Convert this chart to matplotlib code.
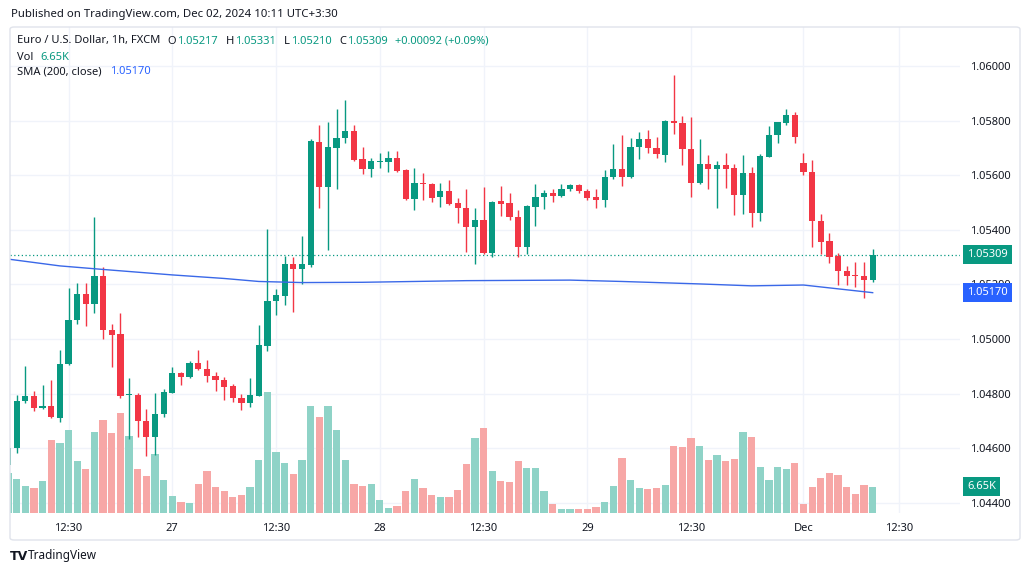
import matplotlib
matplotlib.use("Agg")
import matplotlib.pyplot as plt
from matplotlib.transforms import blended_transform_factory
from matplotlib.patches import FancyBboxPatch

plt.rcParams['font.family'] = ['Noto Sans', 'DejaVu Sans']

# ---------------- data (EUR/USD 1h, FXCM) ----------------
bar_index = list(range(-1, 100))
opens = [1.04539, 1.04600, 1.04773, 1.04792, 1.04747, 1.04756, 1.04710, 1.04908, 1.05070, 1.05165,
         1.05129, 1.05232, 1.05034, 1.05019, 1.04795, 1.04796, 1.04701, 1.04643, 1.04724, 1.04804,
         1.04877, 1.04860, 1.04911, 1.04890, 1.04866, 1.04851, 1.04828, 1.04784, 1.04765, 1.04792,
         1.04976, 1.05141, 1.05159, 1.05275, 1.05256, 1.05271, 1.05723, 1.05556, 1.05701, 1.05735,
         1.05762, 1.05659, 1.05623, 1.05650, 1.05650, 1.05662, 1.05618, 1.05513, 1.05571, 1.05568,
         1.05519, 1.05543, 1.05497, 1.05481, 1.05409, 1.05436, 1.05314, 1.05506, 1.05497, 1.05448,
         1.05338, 1.05485, 1.05519, 1.05536, 1.05524, 1.05548, 1.05564, 1.05543, 1.05519, 1.05509,
         1.05595, 1.05622, 1.05593, 1.05705, 1.05733, 1.05699, 1.05674, 1.05799, 1.05790, 1.05695,
         1.05571, 1.05641, 1.05622, 1.05638, 1.05625, 1.05528, 1.05609, 1.05461, 1.05668, 1.05747,
         1.05790, 1.05821, 1.05646, 1.05613, 1.05434, 1.05360, 1.05304, 1.05250, 1.05234, 1.05231,
         1.05217]
highs = [1.04609, 1.04795, 1.04903, 1.04811, 1.04831, 1.04850, 1.04960, 1.05186, 1.05204, 1.05204,
         1.05446, 1.05265, 1.05055, 1.05095, 1.04859, 1.04802, 1.04743, 1.04802, 1.04817, 1.04897,
         1.04880, 1.04918, 1.04960, 1.04924, 1.04879, 1.04862, 1.04836, 1.04799, 1.04859, 1.05051,
         1.05402, 1.05183, 1.05304, 1.05302, 1.05378, 1.05733, 1.05784, 1.05794, 1.05843, 1.05876,
         1.05784, 1.05705, 1.05662, 1.05683, 1.05690, 1.05690, 1.05622, 1.05626, 1.05607, 1.05571,
         1.05571, 1.05583, 1.05516, 1.05549, 1.05479, 1.05558, 1.05505, 1.05561, 1.05536, 1.05473,
         1.05491, 1.05567, 1.05546, 1.05549, 1.05568, 1.05568, 1.05568, 1.05549, 1.05549, 1.05619,
         1.05713, 1.05747, 1.05735, 1.05759, 1.05766, 1.05741, 1.05801, 1.05967, 1.05817, 1.05812,
         1.05732, 1.05674, 1.05653, 1.05680, 1.05641, 1.05674, 1.05629, 1.05677, 1.05780, 1.05796,
         1.05841, 1.05830, 1.05680, 1.05656, 1.05458, 1.05387, 1.05316, 1.05268, 1.05283, 1.05281,
         1.05331]
lows = [1.04528, 1.04583, 1.04766, 1.04738, 1.04743, 1.04710, 1.04695, 1.04904, 1.05055, 1.05048,
        1.05097, 1.04999, 1.04897, 1.04783, 1.04634, 1.04643, 1.04572, 1.04576, 1.04716, 1.04803,
        1.04832, 1.04858, 1.04887, 1.04844, 1.04811, 1.04777, 1.04771, 1.04741, 1.04750, 1.04790,
        1.04958, 1.05088, 1.05125, 1.05100, 1.05201, 1.05265, 1.05479, 1.05326, 1.05548, 1.05717,
        1.05653, 1.05605, 1.05593, 1.05626, 1.05613, 1.05611, 1.05509, 1.05473, 1.05509, 1.05501,
        1.05485, 1.05491, 1.05424, 1.05320, 1.05275, 1.05312, 1.05300, 1.05451, 1.05436, 1.05300,
        1.05312, 1.05414, 1.05475, 1.05503, 1.05519, 1.05543, 1.05536, 1.05509, 1.05479, 1.05485,
        1.05585, 1.05562, 1.05589, 1.05658, 1.05683, 1.05662, 1.05650, 1.05751, 1.05637, 1.05519,
        1.05568, 1.05548, 1.05479, 1.05552, 1.05454, 1.05458, 1.05412, 1.05434, 1.05667, 1.05719,
        1.05784, 1.05717, 1.05601, 1.05336, 1.05312, 1.05278, 1.05198, 1.05198, 1.05190, 1.05149,
        1.05210]
closes = [1.04601, 1.04775, 1.04792, 1.04749, 1.04756, 1.04714, 1.04909, 1.05070, 1.05165, 1.05129,
          1.05232, 1.05033, 1.05015, 1.04792, 1.04797, 1.04700, 1.04643, 1.04725, 1.04805, 1.04877,
          1.04862, 1.04914, 1.04889, 1.04865, 1.04850, 1.04826, 1.04783, 1.04765, 1.04794, 1.04978,
          1.05141, 1.05161, 1.05275, 1.05256, 1.05275, 1.05725, 1.05556, 1.05702, 1.05737, 1.05762,
          1.05656, 1.05622, 1.05652, 1.05652, 1.05662, 1.05616, 1.05513, 1.05571, 1.05568, 1.05518,
          1.05543, 1.05495, 1.05479, 1.05409, 1.05436, 1.05314, 1.05503, 1.05495, 1.05446, 1.05338,
          1.05487, 1.05522, 1.05536, 1.05524, 1.05550, 1.05564, 1.05543, 1.05516, 1.05509, 1.05595,
          1.05622, 1.05595, 1.05705, 1.05733, 1.05699, 1.05677, 1.05799, 1.05790, 1.05695, 1.05571,
          1.05641, 1.05622, 1.05638, 1.05622, 1.05528, 1.05609, 1.05461, 1.05671, 1.05747, 1.05794,
          1.05821, 1.05739, 1.05613, 1.05434, 1.05357, 1.05302, 1.05249, 1.05232, 1.05231, 1.05217,
          1.05309]
volumes_k = [10.1, 8.6, 6.9, 6.2, 8.0, 18.5, 17.7, 21.1, 13.1, 11.1,
             20.4, 23.4, 20.2, 25.3, 19.4, 11.1, 9.3, 14.8, 8.4, 4.2,
             2.7, 2.5, 7.3, 10.5, 6.6, 5.6, 4.0, 4.6, 6.6, 13.5,
             30.6, 15.3, 12.6, 9.9, 13.5, 27.0, 24.2, 27.0, 21.1, 13.5,
             7.3, 6.9, 7.3, 3.2, 1.3, 1.7, 5.6, 8.6, 6.3, 4.6,
             4.0, 4.0, 5.9, 12.5, 19.0, 21.5, 10.7, 8.1, 7.8, 13.2,
             11.4, 11.4, 5.6, 2.4, 1.0, 1.0, 1.0, 1.0, 1.4, 2.7,
             6.9, 13.9, 8.3, 6.3, 6.1, 6.3, 7.2, 16.9, 16.6, 19.0,
             17.0, 13.5, 14.7, 13.1, 13.7, 20.5, 19.2, 11.6, 8.3, 11.6,
             11.1, 12.7, 2.4, 6.7, 8.9, 10.1, 9.7, 6.5, 4.9, 7.2,
             6.65]
sma_index = [-1, 5, 10, 18, 24, 28, 33, 40, 52, 64, 70, 79, 85, 91, 99]
sma_values = [1.05293, 1.05268, 1.05255, 1.05235, 1.05222, 1.05211, 1.05207, 1.05208,
              1.05214, 1.05216, 1.05211, 1.05202, 1.05195, 1.05198, 1.05170]
time_tick_pos = [6, 18, 30, 42, 54, 66, 78, 91, 102]
time_tick_labels = ['12:30', '27', '12:30', '28', '12:30', '29', '12:30', 'Dec', '12:30']
price_ticks = [1.044, 1.046, 1.048, 1.050, 1.052, 1.054, 1.056, 1.058, 1.060]

# ---------------- style ----------------
UP = '#089981'
DOWN = '#F23645'
UP_VOL = '#8fd3c7'
DOWN_VOL = '#f7a7a6'
SMA_C = '#3a68e8'
TXT = '#131722'
GRID = '#f0f3fa'

W, H = 1030, 574
fig = plt.figure(figsize=(W / 100, H / 100), dpi=100)
fig.patch.set_facecolor('white')


def fx(x):
    return x / W


def fy(y):
    return 1 - y / H


rect = [fx(10), fy(513), fx(960) - fx(10), fy(27) - fy(513)]
ax_v = fig.add_axes(rect, zorder=0)
ax = fig.add_axes(rect, zorder=1, sharex=ax_v)
ax.patch.set_visible(False)

xlim = (-0.77, 109.1)
ax_v.set_xlim(*xlim)
ax.set_ylim(1.043633, 1.061427)
ax_v.set_ylim(0, 122.9)

# grid (bottom layer)
for t in time_tick_pos:
    ax_v.axvline(t, color=GRID, lw=1, zorder=0)
gtr = blended_transform_factory(ax_v.transAxes, ax.transData)
for p in price_ticks:
    ax_v.plot([0, 1], [p, p], color=GRID, lw=1, transform=gtr, zorder=0)

up = [c >= o for o, c in zip(opens, closes)]
vol_cols = [UP_VOL if u else DOWN_VOL for u in up]
ax_v.bar(bar_index, volumes_k, width=0.84, color=vol_cols, linewidth=0, zorder=1)

cols = [UP if u else DOWN for u in up]
ax.vlines(bar_index, lows, highs, colors=cols, lw=1.0, zorder=2)
bottoms = [min(o, c) for o, c in zip(opens, closes)]
heights = [max(abs(c - o), 0.00003) for o, c in zip(opens, closes)]
ax.bar(bar_index, heights, bottom=bottoms, width=0.72, color=cols, linewidth=0, zorder=3)

ax.plot(sma_index, sma_values, color=SMA_C, lw=1.0, zorder=4)

last_close = closes[-1]
ax.axhline(last_close, color=UP, lw=0.9, ls=(0, (1, 2)), zorder=1)

for a in (ax, ax_v):
    for s in a.spines.values():
        s.set_visible(False)
ax_v.set_yticks([])
ax_v.tick_params(axis='x', length=0, labelbottom=False)

ax.set_xticks(time_tick_pos)
ax.set_xticklabels(time_tick_labels)
ax.tick_params(axis='x', length=0, pad=7, labelsize=8, labelcolor=TXT)
ax.yaxis.tick_right()
ax.set_yticks(price_ticks)
ax.set_yticklabels([f'{p:.5f}' for p in price_ticks])
ax.tick_params(axis='y', length=0, pad=7.5, labelsize=8, labelcolor=TXT)

# right-hand value labels (drawn over the price scale like the reference)
ptr = blended_transform_factory(fig.transFigure, ax.transData)
ax.text(fx(967), last_close, f'{last_close:.5f}', transform=ptr, ha='left', va='center',
        fontsize=8, color='white', fontweight='bold', clip_on=False, zorder=20,
        bbox=dict(boxstyle='square,pad=0.35', fc=UP, ec='none'))
ax.text(fx(967), sma_values[-1], f'{sma_values[-1]:.5f}', transform=ptr, ha='left', va='center',
        fontsize=8, color='white', fontweight='bold', clip_on=False, zorder=20,
        bbox=dict(boxstyle='square,pad=0.35', fc='#2962FF', ec='none'))
vtr = blended_transform_factory(fig.transFigure, ax_v.transData)
ax.text(fx(967), volumes_k[-1], f'{volumes_k[-1]:.2f}K', transform=vtr, ha='left', va='center',
        fontsize=8, color='white', fontweight='bold', clip_on=False, zorder=20,
        bbox=dict(boxstyle='square,pad=0.35', fc=UP, ec='none'))

# frame
frame = FancyBboxPatch((fx(10), fy(540)), fx(1020) - fx(10), fy(27) - fy(540),
                       boxstyle='round,pad=0,rounding_size=0.004', transform=fig.transFigure,
                       fc='none', ec='#e0e3eb', lw=1, zorder=30)
fig.add_artist(frame)

# header texts
fig.text(fx(11), fy(14), 'Published on TradingView.com, Dec 02, 2024 10:11 UTC+3:30',
         fontsize=8.2, color=TXT, va='center', ha='left')
renderer = fig.canvas.get_renderer()


def text_run(x, y, parts, gap_after):
    """Place consecutive text parts left to right, measuring each one."""
    for (s, c), gap in zip(parts, gap_after):
        t = fig.text(fx(x), fy(y), s, fontsize=8, color=c, va='center', ha='left')
        x = t.get_window_extent(renderer).x1 + gap
    return x


chg = last_close - opens[-1]
text_run(17, 41,
         [('Euro / U.S. Dollar, 1h, FXCM', TXT),
          ('O', TXT), (f'{opens[-1]:.5f}', UP),
          ('H', TXT), (f'{highs[-1]:.5f}', UP),
          ('L', TXT), (f'{lows[-1]:.5f}', UP),
          ('C', TXT), (f'{last_close:.5f}', UP),
          (f'{chg:+.5f} ({chg / opens[-1] * 100:+.2f}%)', UP)],
         [7, 1, 8, 1, 8, 1, 8, 1, 7, 0])
text_run(17, 57, [('Vol', TXT), (f'{volumes_k[-1]:.2f}K', UP)], [7, 0])
text_run(17, 72, [('SMA (200, close)', TXT), (f'{sma_values[-1]:.5f}', '#2962FF')], [8, 0])

# footer
fig.text(fx(10), fy(556), 'TV', fontsize=9, fontweight='bold', color=TXT, va='center',
         family=['DejaVu Sans'])
fig.text(fx(28), fy(556), 'TradingView', fontsize=8.5, color=TXT, va='center')

fig.savefig('out.png', dpi=100, facecolor='white')
